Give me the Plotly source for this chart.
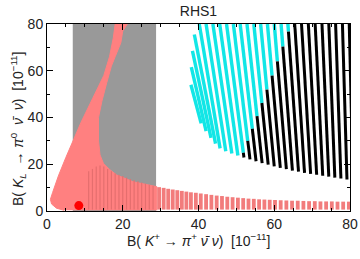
import plotly.graph_objects as go

# ---------------- data ----------------
# experimental band of B(K+ -> pi+ nu nu)
band_x = [6.8, 28.8]
# SM point
sm_x = [8.4]
sm_y = [2.3]

# solid pink region outline
pink_x = [4.5, 2.5, 1.2, 0.9, 1.5, 3.0, 5.0, 6.9, 9.0, 12.0, 15.0, 16.5, 17.5, 18.0,
          21.2, 20.0, 19.5, 18.0, 17.0, 15.8, 14.5, 13.6, 13.6, 14.0, 14.9, 16.5,
          18.4, 22.8, 29.0, 29.0]
pink_y = [0.3, 1.2, 3.0, 5.0, 8.0, 15.0, 23.0, 30.0, 38.0, 48.0, 58.0, 66.0, 74.0, 80.0,
          80.0, 77.0, 72.0, 66.0, 62.0, 55.0, 47.0, 40.0, 30.0, 24.0, 20.4, 17.8,
          15.4, 12.5, 10.4, 0.3]

# darker hatch lines inside the solid pink part
hatch_x = [11.0, 12.0, 13.0, 14.0, 15.0, 16.0, 17.0, 18.0, 19.0, 20.0, 21.0, 22.0,
           23.0, 24.0, 25.0, 26.0, 27.0, 28.0]
hatch_top = [17.0, 18.0, 19.0, 19.5, 19.0, 18.0, 17.0, 16.0, 15.5, 15.0, 14.3, 13.7,
             13.2, 12.7, 12.2, 11.7, 11.2, 10.8]

# separate pink loops to the right of the band
loop_x = [29.6, 30.8, 32.0, 33.2, 34.4, 35.6, 36.8, 38.0, 39.3, 40.6, 42.0, 43.4, 44.8,
          46.2, 47.6, 49.0, 50.4, 51.8, 53.2, 54.6, 56.0, 57.4, 58.8, 60.2, 61.7, 63.2,
          64.7, 66.2, 67.7, 69.2, 70.7, 72.2, 73.7, 75.2, 76.7, 78.2, 79.7]
loop_top = [10.2, 9.9, 9.5, 9.2, 8.9, 8.6, 8.3, 8.0, 7.8, 7.5, 7.2, 6.9, 6.6, 6.4, 6.1,
            5.9, 5.7, 5.5, 5.3, 5.2, 5.0, 4.9, 4.8, 4.7, 4.6, 4.5, 4.4, 4.4, 4.3, 4.2,
            4.2, 4.1, 4.1, 4.1, 4.0, 4.0, 4.0]
loop_bottom = 0.6

# cyan / black arcs: top end and bottom end of each arc
arc_top_x = [38.0, 38.1, 38.4, 38.9, 40.2, 42.0, 43.8, 45.6, 47.4, 49.2, 51.0, 52.8,
             54.6, 56.4, 58.2, 60.0, 61.8, 63.6, 65.4, 67.2, 69.0, 70.8, 72.6, 74.4,
             76.2, 78.0, 79.8]
arc_top_y = [54.0, 61.5, 68.5, 75.5] + [80.0] * 23
arc_bot_x = [40.7, 42.0, 43.3, 44.5, 45.7, 47.2, 48.8, 50.4, 52.0, 53.6, 55.2, 56.8,
             58.4, 60.0, 61.6, 63.2, 64.8, 66.4, 68.0, 69.6, 71.2, 72.8, 74.4, 76.0,
             77.6, 79.2, 80.8]
arc_bot_y = [37.5, 34.2, 31.3, 28.8, 26.8, 25.6, 24.6, 23.7, 22.9, 22.1, 21.3, 20.5,
             19.8, 19.1, 18.5, 17.9, 17.3, 16.8, 16.3, 15.9, 15.5, 15.1, 14.7, 14.3,
             13.9, 13.5, 13.1]
# line separating cyan (upper left) from black (lower right)
split_x = [51.4, 64.5]
split_y = [23.0, 80.0]

# ---------------- build traces ----------------
PINK = "#FF8080"
HATCH = "#E56E6E"
LOOP = "#F27C7C"
CYAN = "#12E6E6"

fig = go.Figure()

fig.add_trace(go.Scatter(x=pink_x, y=pink_y, mode="lines", fill="toself",
                         fillcolor=PINK, line=dict(color=PINK, width=1),
                         hoverinfo="skip", showlegend=False))

hx, hy = [], []
for x, t in zip(hatch_x, hatch_top):
    hx += [x, x, None]
    hy += [loop_bottom, t, None]
fig.add_trace(go.Scatter(x=hx, y=hy, mode="lines", line=dict(color=HATCH, width=1.2),
                         hoverinfo="skip", showlegend=False))

lx, ly = [], []
for x, t in zip(loop_x, loop_top):
    lx += [x, x, None]
    ly += [loop_bottom, t, None]
fig.add_trace(go.Scatter(x=lx, y=ly, mode="lines", line=dict(color=LOOP, width=3.8),
                         hoverinfo="skip", showlegend=False))


def split_point(x0, y0, x1, y1):
    # intersection of arc segment with the cyan/black boundary line
    sx0, sx1 = split_x
    sy0, sy1 = split_y
    dxa, dya = x1 - x0, y1 - y0
    dxb, dyb = sx1 - sx0, sy1 - sy0
    den = dxa * dyb - dya * dxb
    if den == 0:
        return None
    t = ((sx0 - x0) * dyb - (sy0 - y0) * dxb) / den
    if 0 <= t <= 1:
        return x0 + t * dxa, y0 + t * dya
    return None


cx, cy, bx, by = [], [], [], []
for x0, y0, x1, y1 in zip(arc_top_x, arc_top_y, arc_bot_x, arc_bot_y):
    p = split_point(x0, y0, x1, y1)
    if p is None:
        sx0, sx1 = split_x
        sy0, sy1 = split_y
        bx_line = sx0 + (sx1 - sx0) * (y0 - sy0) / (sy1 - sy0)
        if x0 < bx_line:
            cx += [x0, x1, None]; cy += [y0, y1, None]
        else:
            bx += [x0, x1, None]; by += [y0, y1, None]
    else:
        cx += [x0, p[0], None]; cy += [y0, p[1], None]
        bx += [p[0], x1, None]; by += [p[1], y1, None]

fig.add_trace(go.Scatter(x=cx, y=cy, mode="lines", line=dict(color=CYAN, width=3.4),
                         hoverinfo="skip", showlegend=False))
fig.add_trace(go.Scatter(x=bx, y=by, mode="lines", line=dict(color="black", width=3.0),
                         hoverinfo="skip", showlegend=False))

fig.add_trace(go.Scatter(x=sm_x, y=sm_y, mode="markers",
                         marker=dict(color="#FF0000", size=9, line=dict(width=0)),
                         hoverinfo="skip", showlegend=False))

fig.add_shape(type="rect", xref="x", yref="y", x0=band_x[0], x1=band_x[1], y0=0, y1=80,
              fillcolor="#999999", line=dict(width=0), layer="below")

FONT = "Liberation Sans, Arial, sans-serif"
axis_common = dict(range=[0, 80], showgrid=False, zeroline=False, showline=True,
                   automargin=False,
                   linecolor="black", linewidth=1, mirror="allticks", ticks="inside",
                   ticklen=6, tickcolor="black", tickfont=dict(family=FONT, size=14,
                                                               color="#222222"))
fig.update_xaxes(**axis_common, tickvals=[0, 20, 40, 60, 80],
                 minor=dict(dtick=5, ticks="inside", ticklen=3, tickcolor="black"))
fig.update_yaxes(**axis_common, tickvals=[0, 20, 40, 60, 80],
                 minor=dict(dtick=10, ticks="inside", ticklen=3, tickcolor="black"))

fig.update_layout(
    width=360, height=259,
    margin=dict(l=47, r=10, t=24, b=48, autoexpand=False),
    paper_bgcolor="white", plot_bgcolor="white",
    title=dict(text="RHS1", x=0.5, xref="paper", y=1 - 11.5 / 259, yref="container",
               xanchor="center", yanchor="middle",
               font=dict(family=FONT, size=14, color="#222222")),
    annotations=[
        dict(text="B( <i>K</i><sup>+</sup> → <i>π</i><sup>+</sup> <i>ν̄</i> <i>ν</i>)  [10<sup>−11</sup>]",
             xref="paper", yref="paper", x=0.5, y=-(240 - 211) / 187, yanchor="middle",
             xanchor="center", showarrow=False,
             font=dict(family=FONT, size=14, color="#222222")),
        dict(text="B( <i>K<sub>L</sub></i>  → <i>π</i><sup>0</sup>  <i>ν̄</i>  <i>ν</i>)  [10<sup>−11</sup>]",
             xref="paper", yref="paper", x=-(47 - 18) / 303, y=(211 - 129) / 187,
             xanchor="center", yanchor="middle", textangle=-90, showarrow=False,
             font=dict(family=FONT, size=14, color="#222222")),
    ],
)

fig.write_html("out.html",
               config={"displayModeBar": False, "staticPlot": True},
               post_script="document.body.style.margin='0px';"
                           "document.body.style.overflow='hidden';")
